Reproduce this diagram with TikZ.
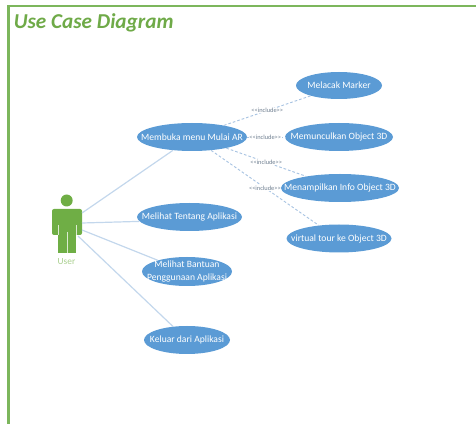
\documentclass[tikz,border=0pt]{standalone}
\usepackage{fontspec}
\setmainfont{Carlito}
\usetikzlibrary{shapes.geometric}
\definecolor{frameG}{HTML}{7CB65C}
\definecolor{actorG}{HTML}{6FAE45}
\definecolor{titleG}{HTML}{6FAA48}
\definecolor{userG}{HTML}{A9CF8E}
\definecolor{ovalB}{HTML}{5B9BD5}
\definecolor{assocB}{HTML}{C3D7EC}
\definecolor{depB}{HTML}{A9C4E2}
\definecolor{incG}{HTML}{6F7F90}
\newcommand{\inctext}{{<}{<}include{>}{>}}
\tikzset{
  usecase/.style={ellipse,fill=ovalB,draw=none,inner sep=0pt},
  uctext/.style={inner sep=0pt,text=white,align=center,font=\fontsize{7.2pt}{10pt}\selectfont},
  assoc/.style={draw=assocB,line width=0.9pt},
  dep/.style={draw=depB,line width=0.7pt,dash pattern=on 2pt off 1.5pt},
  inc/.style={font=\fontsize{4.8pt}{6pt}\selectfont,text=incG,fill=white,inner sep=0.4pt},
}
\newcommand{\ucoval}[6]{\node[usecase,minimum width=#4*0.75pt,minimum height=#5*0.75pt] (#1) at (#2,#3) {};
  \node[uctext] (#1-t) at (#1) {#6};}
\begin{document}
\begin{tikzpicture}[x=0.75pt,y=-0.75pt]
\useasboundingbox (0,0) rectangle (476,424);
\draw[frameG,line width=1.9pt] (8.5,424) -- (8.5,6) -- (476,6);
\node[anchor=west,inner sep=0pt,text=titleG,font=\fontsize{15.9pt}{18pt}\selectfont\bfseries\itshape] (title) at (13.5,22.5) {Use Case Diagram};
% actor
\fill[actorG] (66.7,200.5) circle (6);
\fill[actorG,rounded corners=1.5pt] (52,209) rectangle (82,235);
\fill[actorG] (58,225) rectangle (76,253);
\draw[white!75!actorG,line width=0.35pt] (58,225) -- (58,235) (76,225) -- (76,235) (67,232) -- (67,253);
\node[inner sep=0pt,text=userG,font=\fontsize{7pt}{8pt}\selectfont] (user) at (66.5,262) {User};
\coordinate (a1) at (82,213);
\coordinate (a2) at (82,223);
\coordinate (a3) at (82,230);
\coordinate (a4) at (78,236);
% use cases
\ucoval{mulai}{192}{137}{110}{28}{Membuka menu Mulai AR}
\ucoval{marker}{339}{85.5}{86}{27}{Melacak Marker}
\ucoval{muncul}{339}{137}{108}{28}{Memunculkan Object 3D}
\ucoval{info}{340}{188}{118}{28}{Menampilkan Info Object 3D}
\ucoval{tour}{339}{238.5}{105}{28}{virtual tour ke Object 3D}
\ucoval{tentang}{189.5}{217}{105}{28}{Melihat Tentang Aplikasi}
\ucoval{bantuan}{187}{271.5}{90}{29}{Melihat Bantuan\\Penggunaan Aplikasi}
\ucoval{keluar}{187}{340}{86}{28}{Keluar dari Aplikasi}
% associations
\draw[assoc] (a1) -- (mulai.215);
\draw[assoc] (a2) -- (tentang.185);
\draw[assoc] (a3) -- (bantuan.159);
\draw[assoc] (a4) -- (keluar.136);
% includes
\draw[dep] (mulai.20) -- node[inc,pos=0.5]{\inctext} (marker.200);
\draw[dep] (mulai.east) -- node[inc,pos=0.48]{\inctext} (muncul.west);
\draw[dep] (mulai.342) -- node[inc,pos=0.5]{\inctext} (info.161);
\draw[dep] (mulai.325) -- node[inc,pos=0.5]{\inctext} (tour.147);
\end{tikzpicture}
\end{document}
